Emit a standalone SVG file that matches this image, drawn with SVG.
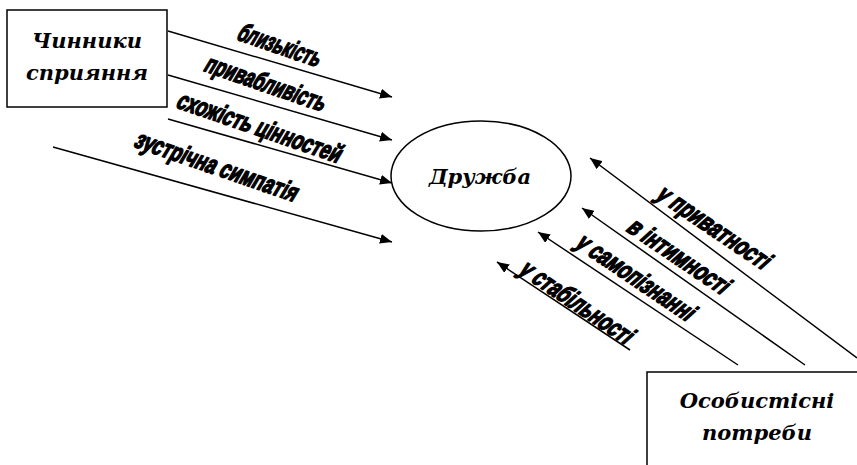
<svg xmlns="http://www.w3.org/2000/svg" width="857" height="465" viewBox="0 0 857 465">
<style>
.box{fill:#fff;stroke:#000;stroke-width:1.5}
.title{font-family:"DejaVu Serif","Liberation Serif",serif;font-weight:bold;font-style:italic;font-size:21px;text-anchor:middle;fill:#000}
.lbl{font-family:"Liberation Sans",Arial,sans-serif;font-weight:bold;font-size:26px;text-anchor:middle;fill:#000;stroke:#000;stroke-width:1.5;stroke-linejoin:round}
.ar{stroke:#000;stroke-width:1.5;fill:none;marker-end:url(#ah)}
</style>
<defs>
<marker id="ah" viewBox="0 0 12 10" refX="12" refY="5" markerWidth="12" markerHeight="10" markerUnits="userSpaceOnUse" orient="auto">
<path d="M0,0 L12,5 L0,10 Z" fill="#000"/>
</marker>
</defs>
<g id="connectors">
<line class="ar" x1="168" y1="31" x2="392" y2="97"/>
<line class="ar" x1="168" y1="75" x2="392" y2="140"/>
<line class="ar" x1="168" y1="119" x2="392" y2="183"/>
<line class="ar" x1="53" y1="147" x2="392" y2="242"/>
<line class="ar" x1="857" y1="358" x2="590" y2="158"/>
<line class="ar" x1="805" y1="365" x2="582" y2="208"/>
<line class="ar" x1="738" y1="365" x2="538" y2="232"/>
<line class="ar" x1="630" y1="350" x2="497" y2="262"/>
</g>
<g id="labels">
<text class="lbl" transform="translate(280,46) rotate(19) skewX(-12)" y="8" textLength="86" lengthAdjust="spacingAndGlyphs">близькість</text>
<text class="lbl" transform="translate(266,84) rotate(19) skewX(-12)" y="8" textLength="126" lengthAdjust="spacingAndGlyphs">привабливість</text>
<text class="lbl" transform="translate(260,128) rotate(19) skewX(-12)" y="8" textLength="172" lengthAdjust="spacingAndGlyphs">схожість цінностей</text>
<text class="lbl" transform="translate(217,167) rotate(19) skewX(-12)" y="8" textLength="170" lengthAdjust="spacingAndGlyphs">зустрічна симпатія</text>
<text class="lbl" transform="translate(714,228) rotate(34) skewX(-14)" y="8" textLength="130" lengthAdjust="spacingAndGlyphs">у приватності</text>
<text class="lbl" transform="translate(679,257) rotate(34) skewX(-14)" y="8" textLength="116" lengthAdjust="spacingAndGlyphs">в інтимності</text>
<text class="lbl" transform="translate(636,278) rotate(34) skewX(-14)" y="8" textLength="136" lengthAdjust="spacingAndGlyphs">у самопізнанні</text>
<text class="lbl" transform="translate(577,303) rotate(34) skewX(-14)" y="8" textLength="130" lengthAdjust="spacingAndGlyphs">у стабільності</text>
</g>
<g id="chynnyky">
<rect class="box" x="7" y="10" width="160" height="97"/>
<text class="title" x="87" y="48">Чинники</text>
<text class="title" x="87" y="80">сприяння</text>
</g>
<g id="druzhba">
<ellipse class="box" cx="481" cy="176" rx="90" ry="55"/>
<text class="title" x="480" y="184">Дружба</text>
</g>
<g id="potreby">
<rect class="box" x="647" y="372" width="215" height="100"/>
<text class="title" x="757" y="408">Особистісні</text>
<text class="title" x="757" y="440">потреби</text>
</g>
</svg>
